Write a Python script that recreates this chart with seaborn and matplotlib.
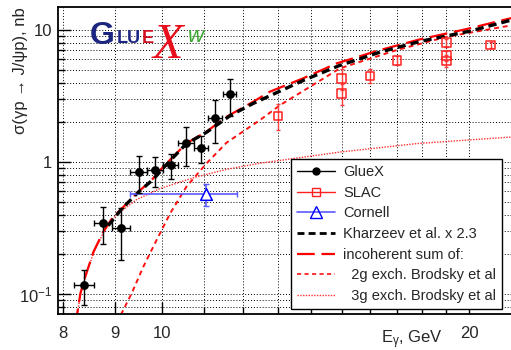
import matplotlib
matplotlib.use("Agg")
import matplotlib.pyplot as plt
import numpy as np
import pandas as pd
import seaborn as sns
from matplotlib.lines import Line2D
from matplotlib.ticker import FixedLocator, FixedFormatter, NullFormatter

# ── Data ──────────────────────────────────────────────────────────────────────
gluex_e = [8.39, 8.76, 9.12, 9.49, 9.85, 10.20, 10.56, 10.92, 11.28, 11.65]
gluex_xs = [0.117, 0.347, 0.315, 0.843, 0.870, 0.949, 1.386, 1.283, 2.166, 3.26]
gluex_err = [0.034, 0.108, 0.135, 0.26, 0.22, 0.205, 0.46, 0.30, 0.77, 1.02]
gluex_ebin = 0.18

slac_e = [13.0, 15.0, 15.0, 16.0, 17.0, 19.0, 19.0, 19.0, 21.0]
slac_xs = [2.24, 4.31, 3.32, 4.50, 5.89, 8.01, 6.39, 5.82, 7.70]
slac_err = [0.5, 0.8, 0.6, 0.55, 0.45, 0.6, 0.6, 0.6, 0.4]

cornell_e = [11.04]
cornell_xs = [0.572]
cornell_err = [0.11]
cornell_elo = [1.73]
cornell_ehi = [0.80]

kharzeev_e = [8.86, 9.13, 9.48, 9.81, 10.03, 10.56, 11.06, 11.67, 12.29, 13.76,
              14.9, 16.36, 17.91, 20.04, 22.1]
kharzeev_xs = [0.33, 0.44, 0.59, 0.74, 0.90, 1.37, 1.68, 2.25, 2.78, 4.15,
               5.35, 6.8, 8.2, 9.8, 12.0]

sum_e = [8.22, 8.26, 8.32, 8.41, 8.57, 8.76, 8.96, 9.17, 9.48, 9.74, 10.03,
         10.57, 11.06, 11.57, 12.29, 12.76, 13.76, 14.84, 16.36, 17.91, 20.04,
         21.61, 22.1]
sum_xs = [0.03, 0.071, 0.101, 0.135, 0.209, 0.296, 0.385, 0.458, 0.596, 0.709,
          0.921, 1.386, 1.70, 2.20, 2.86, 3.41, 4.31, 5.59, 7.05, 8.50, 10.3,
          11.9, 12.4]

g2_e = [9.08, 9.13, 9.34, 9.59, 9.88, 10.19, 10.57, 11.06, 11.57, 12.2, 12.48,
        13.06, 14.95, 16.99, 19.03, 22.1]
g2_xs = [0.06, 0.0714, 0.101, 0.161, 0.256, 0.409, 0.650, 0.977, 1.40, 1.85,
         2.08, 2.70, 5.13, 7.05, 8.9, 10.9]

g3_e = [8.22, 8.26, 8.32, 8.41, 8.57, 8.76, 8.96, 9.07, 9.45, 9.96, 10.74,
        11.57, 12.48, 14.95, 17.78, 22.1]
g3_xs = [0.03, 0.069, 0.099, 0.132, 0.205, 0.29, 0.375, 0.41, 0.52, 0.63, 0.76,
         0.88, 0.98, 1.19, 1.38, 1.55]

x_ticks = [8, 9, 10, 20]
x_ticklabels = ["8", "9", "10", "20"]
y_ticks = [0.1, 1, 10]
y_ticklabels = ["$10^{-1}$", "1", "10"]

legend_labels = ["GlueX", "SLAC", "Cornell", "Kharzeev et al. x 2.3",
                 "incoherent sum of:", "  2g exch. Brodsky et al",
                 "  3g exch. Brodsky et al"]

# ── Style ─────────────────────────────────────────────────────────────────────
sns.set_theme(style="ticks")
plt.rcParams["font.family"] = ["Liberation Sans", "DejaVu Sans"]
plt.rcParams["mathtext.fontset"] = "custom"
plt.rcParams["mathtext.rm"] = "Liberation Sans"
plt.rcParams["mathtext.it"] = "Liberation Sans:italic"

W, H = 511, 350
fig = plt.figure(figsize=(W / 100, H / 100), dpi=100)
ax = fig.add_axes([58 / W, 36 / H, 455 / W, 307 / H])
ax.set_xscale("log")
ax.set_yscale("log")

# ── Curves ────────────────────────────────────────────────────────────────────
curves = [
    (g3_e, g3_xs, dict(color="#ff3030", linewidth=1.0, linestyle=(0, (1, 1)))),
    (g2_e, g2_xs, dict(color="#ff1010", linewidth=1.4, linestyle=(0, (2.5, 2)))),
    (sum_e, sum_xs, dict(color="#ff0000", linewidth=1.6, linestyle=(0, (8, 3)))),
    (kharzeev_e, kharzeev_xs, dict(color="black", linewidth=2.4, linestyle=(0, (2.5, 1.5)))),
]
for e, xs, kw in curves:
    df = pd.DataFrame({"E": e, "xs": xs})
    sns.lineplot(data=df, x="E", y="xs", ax=ax, sort=False, estimator=None, **kw)

# ── Data points ───────────────────────────────────────────────────────────────
ax.errorbar(cornell_e, cornell_xs, yerr=cornell_err, xerr=[cornell_elo, cornell_ehi],
            fmt="none", ecolor="#5a5aff", elinewidth=1.2, capsize=2, zorder=4)
sns.scatterplot(x=cornell_e, y=cornell_xs, ax=ax, marker="^", s=70,
                facecolor="white", edgecolor="blue", linewidth=1.1, zorder=5)

ax.errorbar(slac_e, slac_xs, yerr=slac_err, fmt="none", ecolor="#ff3b3b",
            elinewidth=1.0, capsize=1.5, zorder=4)
sns.scatterplot(x=slac_e, y=slac_xs, ax=ax, marker="s", s=38,
                facecolor="none", edgecolor="#ff2020", linewidth=1.1, zorder=5)

ax.errorbar(gluex_e, gluex_xs, yerr=gluex_err, xerr=gluex_ebin, fmt="none",
            ecolor="black", elinewidth=1.0, capsize=2, zorder=6)
sns.scatterplot(x=gluex_e, y=gluex_xs, ax=ax, marker="o", s=40, color="black",
                edgecolor="black", linewidth=0, zorder=7)

# ── Axes ──────────────────────────────────────────────────────────────────────
ax.set_xlim(7.91, 22.09)
ax.set_ylim(0.0706, 14.94)
ax.xaxis.set_major_locator(FixedLocator(x_ticks))
ax.xaxis.set_major_formatter(FixedFormatter(x_ticklabels))
ax.xaxis.set_minor_locator(FixedLocator(list(range(11, 20))))
ax.xaxis.set_minor_formatter(NullFormatter())
ax.yaxis.set_major_locator(FixedLocator(y_ticks))
ax.yaxis.set_major_formatter(FixedFormatter(y_ticklabels))
y_minor = [0.08, 0.09] + [k / 10 for k in range(2, 10)] + list(range(2, 10))
ax.yaxis.set_minor_locator(FixedLocator(y_minor))
ax.yaxis.set_minor_formatter(NullFormatter())

ax.tick_params(which="both", direction="in", top=False, right=False,
               color="black", labelsize=12, width=1.0)
ax.tick_params(which="major", length=9)
ax.tick_params(which="minor", length=5)
ax.tick_params(axis="x", pad=9)
ax.tick_params(axis="y", pad=4)
ax.grid(which="both", color="black", linestyle=(0, (1, 2)), linewidth=0.7)
for side in ["left", "bottom", "top", "right"]:
    ax.spines[side].set_color("black")
    ax.spines[side].set_linewidth(1.3)

ax.set_xlabel("")
ax.set_ylabel("σ(γp → J/ψp), nb", fontsize=12, loc="top")
ax.yaxis.set_label_coords(-0.066, 1.0)
ax.text((443 - 58) / 455, -29 / 307, "E$_{\\mathrm{γ}}$, GeV", fontsize=12,
        ha="right", va="baseline", transform=ax.transAxes)

# ── Legend ────────────────────────────────────────────────────────────────────
handles = [
    Line2D([], [], color="black", marker="o", markersize=5, linewidth=1.0),
    Line2D([], [], color="#ff2020", marker="s", markersize=6, markerfacecolor="none",
           linewidth=1.0),
    Line2D([], [], color="#5a5aff", marker="^", markersize=8, markerfacecolor="none",
           markeredgecolor="blue", linewidth=1.2),
    Line2D([], [], color="black", linewidth=2.0, linestyle=(0, (2.5, 1.5))),
    Line2D([], [], color="#ff0000", linewidth=1.6, linestyle=(0, (8, 3))),
    Line2D([], [], color="#ff1010", linewidth=1.2, linestyle=(0, (2.5, 2))),
    Line2D([], [], color="#ff3030", linewidth=1.0, linestyle=(0, (1, 1))),
]
leg = ax.legend(handles, legend_labels, loc="lower right",
                bbox_to_anchor=((502 - 58) / 455, (314 - 309) / 307),
                borderaxespad=0, fontsize=10.5, frameon=True, fancybox=False,
                edgecolor="black", framealpha=1, handlelength=2.6,
                handletextpad=0.55, labelspacing=0.46, borderpad=0.4)
leg.get_frame().set_linewidth(1.0)

# ── GlueX logo (approximate) ──────────────────────────────────────────────────
navy = "#1c2580"
fig.text(90 / W, 1 - 44 / H, "G", fontsize=23, fontweight="bold", color=navy)
fig.text(117 / W, 1 - 43 / H, "LU", fontsize=13, fontweight="bold", color=navy)
fig.text(142 / W, 1 - 43 / H, "E", fontsize=13, fontweight="bold", color="#d01020")
fig.text(153 / W, 1 - 58 / H, "X", fontsize=36, fontstyle="italic",
         family=["Liberation Serif", "DejaVu Serif"], color="#e8101c")
fig.text(188 / W, 1 - 42 / H, "w", fontsize=16, fontstyle="italic", color="#3aa830")

fig.savefig("out.png", dpi=100)
